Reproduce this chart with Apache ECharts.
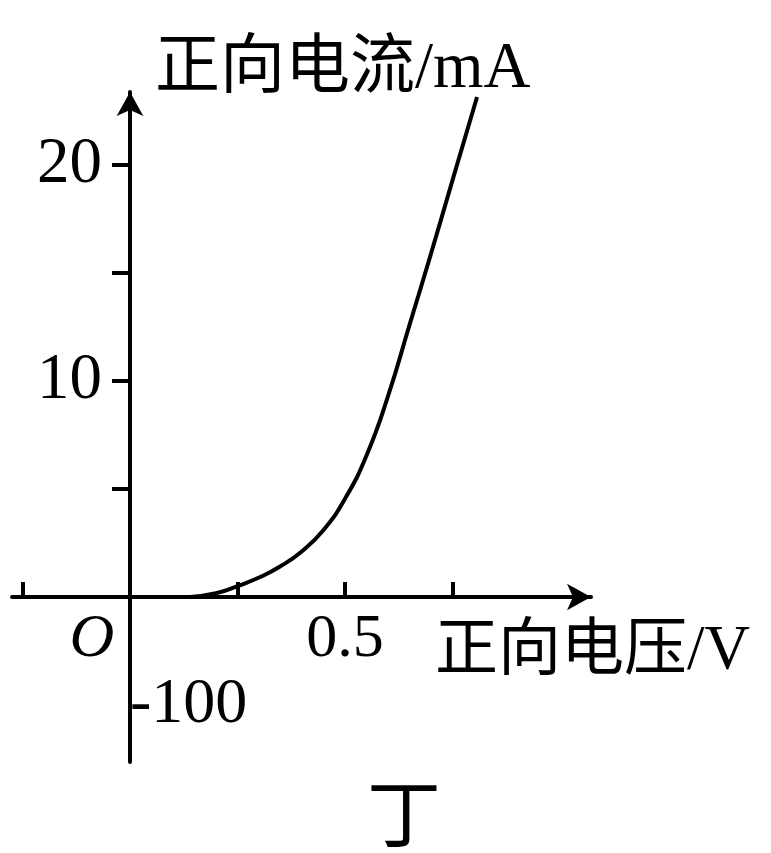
<!DOCTYPE html>
<html>
<head>
<meta charset="utf-8">
<script src="https://cdn.jsdelivr.net/npm/echarts@6/dist/echarts.min.js"></script>
<style>
html,body{margin:0;padding:0;background:#fff;}
#main{width:771px;height:853px;}
</style>
</head>
<body>
<div id="main"></div>
<script>
// Data
const voltage = [0.14, 0.20, 0.25, 0.30, 0.35, 0.40, 0.45, 0.50, 0.55, 0.60, 0.65, 0.70, 0.75, 0.807];
const current = [0, 0.17, 0.50, 0.90, 1.42, 2.12, 3.10, 4.55, 6.55, 9.30, 12.6, 15.9, 19.3, 23.15];
const xTickValues = [-0.25, 0.25, 0.5, 0.75];
const xLabelValues = [0, 0.5];
const yTickValues = [5, 10, 15, 20];
const yLabelValues = [10, 20];
const lowerTickValues = [-5];
const lowerTickLabels = ['-100'];
const xName = '正向电压/V';
const yName = '正向电流/mA';
const caption = '丁';

const serif = 'Liberation Serif, Noto Sans CJK SC';
const black = '#000';

const chart = echarts.init(document.getElementById('main'), null, {renderer: 'canvas'});
chart.setOption({
  backgroundColor: '#fff',
  animation: false,
  title: {
    text: caption,
    left: 399,
    top: 780,
    textAlign: 'center',
    textStyle: {fontFamily: serif, fontSize: 74, fontWeight: 'normal', color: black}
  },
  grid: {left: 12, right: 180, top: 92, bottom: 91, containLabel: false, outerBoundsMode: 'none'},
  xAxis: {
    type: 'value',
    position: 'bottom',
    offset: -165,
    min: -0.2744,
    max: 1.072,
    axisLine: {onZero: false, lineStyle: {color: black, width: 4},
      symbol: ['none', 'arrow'], symbolSize: [20, 24]},
    axisTick: {show: true, inside: true, length: 15, customValues: xTickValues,
      lineStyle: {color: black, width: 4}},
    splitLine: {show: false},
    axisLabel: {
      customValues: xLabelValues,
      margin: 12,
      color: black,
      fontFamily: serif,
      fontSize: 62,
      formatter: function (v) { return v === 0 ? '{o|O}' : String(v); },
      rich: {o: {fontFamily: serif, fontSize: 62, fontStyle: 'italic', color: black, padding: [0, 76, 0, 0]}}
    },
    name: xName,
    nameLocation: 'end',
    nameGap: 159,
    nameTextStyle: {fontFamily: serif, fontSize: 63, color: black, align: 'right', verticalAlign: 'top', padding: [24, 0, 0, 0]}
  },
  yAxis: [{
    type: 'value',
    position: 'left',
    offset: -118,
    min: -7.64,
    max: 23.38,
    axisLine: {onZero: false, lineStyle: {color: black, width: 4},
      symbol: ['none', 'arrow'], symbolSize: [20, 24]},
    axisTick: {show: true, inside: false, length: 18, customValues: yTickValues,
      lineStyle: {color: black, width: 4}},
    splitLine: {show: false},
    axisLabel: {customValues: yLabelValues, margin: 28, color: black, fontFamily: serif, fontSize: 65},
    name: yName,
    nameLocation: 'end',
    nameGap: 2,
    nameTextStyle: {fontFamily: serif, fontSize: 65, color: black, align: 'left', verticalAlign: 'bottom', padding: [0, 0, -12, 25]}
  }, {
    type: 'value',
    position: 'right',
    offset: -461,
    min: -7.64,
    max: 23.38,
    axisLine: {show: false, onZero: false},
    axisTick: {show: false},
    splitLine: {show: false},
    axisLabel: {customValues: lowerTickValues, margin: 0, color: black, fontFamily: serif, fontSize: 64,
      formatter: function (v) { const i = lowerTickValues.indexOf(v); return i >= 0 ? lowerTickLabels[i] : ''; }}
  }],
  series: [{
    type: 'line',
    data: voltage.map((v, i) => [v, current[i]]),
    smooth: 0.5,
    showSymbol: false,
    lineStyle: {color: black, width: 4},
    z: 5
  }]
});
</script>
</body>
</html>
